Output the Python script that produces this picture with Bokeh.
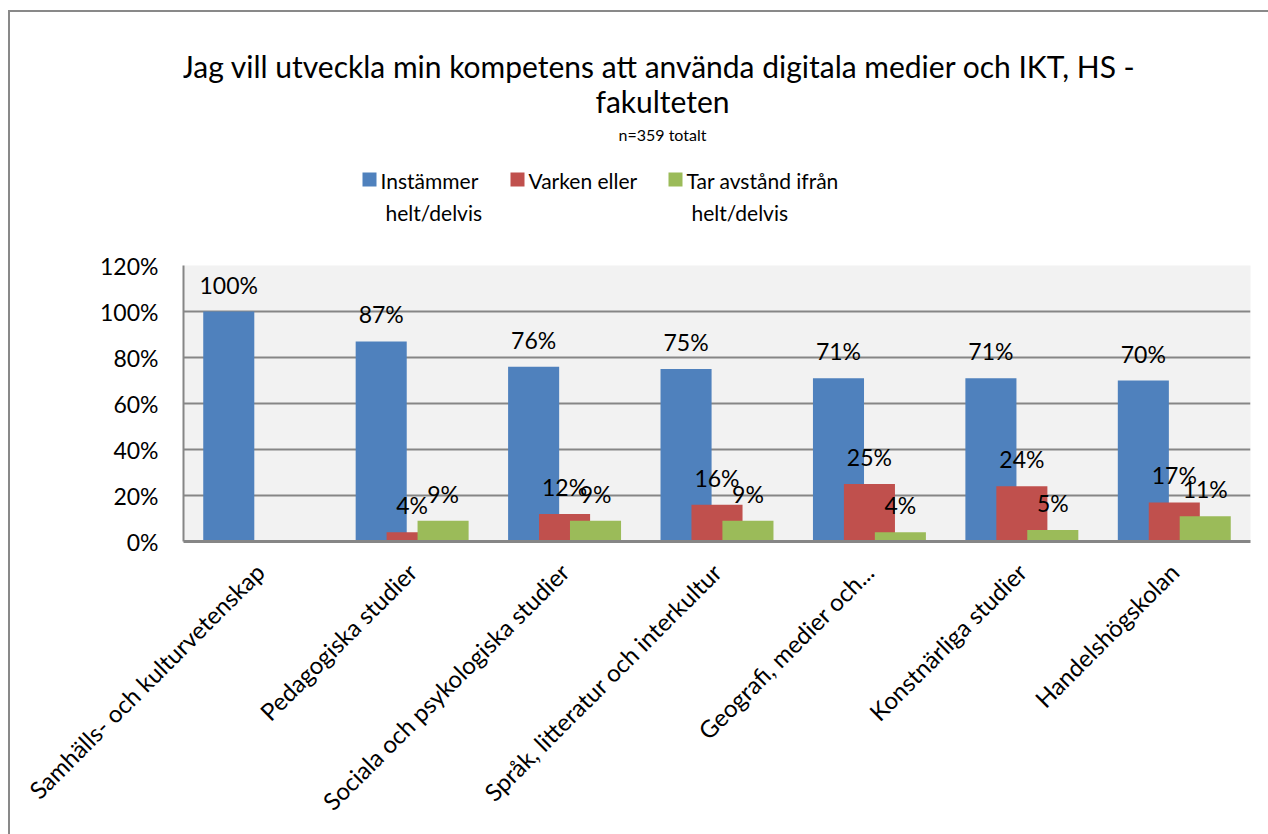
import math
from bokeh.plotting import figure
from bokeh.layouts import column
from bokeh.models import ColumnDataSource, LabelSet, FixedTicker, Range1d
from bokeh.core.properties import value
from bokeh.embed import file_html
from bokeh.resources import INLINE

# ---- data ----
categories = ["Samhälls- och kulturvetenskap", "Pedagogiska studier",
              "Sociala och psykologiska studier", "Språk, litteratur och interkultur",
              "Geografi, medier och...", "Konstnärliga studier", "Handelshögskolan"]
series_names = [["Instämmer", "helt/delvis"], ["Varken eller"], ["Tar avstånd ifrån", "helt/delvis"]]
instammer = [1.00, 0.87, 0.76, 0.75, 0.71, 0.71, 0.70]
varken = [None, 0.04, 0.12, 0.16, 0.25, 0.24, 0.17]
tar_avstand = [None, 0.09, 0.09, 0.09, 0.04, 0.05, 0.11]
y_ticks = [0.0, 0.2, 0.4, 0.6, 0.8, 1.0, 1.2]
y_tick_labels = ["0%", "20%", "40%", "60%", "80%", "100%", "120%"]
title_line1 = "Jag vill utveckla min kompetens att använda digitala medier och IKT,  HS -"
title_line2 = "fakulteten"
subtitle = "n=359 totalt"

colors = ["#4F81BD", "#C0504D", "#9BBB59"]
FONT = "Lato"
GRID = "#868686"
W = 1258
TOTAL_H = 822
HEAD_H = 231
BL, BR = 173, 18

# ---------------- header: title + legend (coords = canvas pixels) ----------------
h = figure(width=W, height=HEAD_H, output_backend="svg", toolbar_location=None,
           x_range=Range1d(BL, W - BR), y_range=Range1d(HEAD_H, 0),
           x_axis_type=None, y_axis_type=None,
           min_border_left=BL, min_border_right=BR, min_border_top=0, min_border_bottom=0)
h.outline_line_color = None
h.background_fill_color = "white"
h.border_fill_color = "white"
h.xgrid.visible = False
h.ygrid.visible = False

cx = 652
title_src = ColumnDataSource(dict(x=[cx, cx], y=[53, 88], t=[title_line1, title_line2]))
h.text(x="x", y="y", text="t", source=title_src, text_align="center",
       text_baseline="middle", text_font=value(FONT), text_font_size="30px",
       text_color="black")
h.text(x=[cx], y=[122], text=[subtitle], text_align="center", text_baseline="middle",
       text_font=value(FONT), text_font_size="16px", text_color="black")

sq_left = [352, 500, 658]
sq = 14
sq_top = 160
for left, col, lines in zip(sq_left, colors, series_names):
    h.quad(left=[left], right=[left + sq], top=[sq_top], bottom=[sq_top + sq],
           fill_color=col, line_color=None)
    xs = [left + sq + 4 + (0 if k == 0 else 5) for k in range(len(lines))]
    ys = [sq_top + 8 + 32 * k for k in range(len(lines))]
    h.text(x=xs, y=ys, text=lines, text_align="left", text_baseline="middle",
           text_font=value(FONT), text_font_size="21px", text_color="black")

# ---------------- main chart ----------------
p = figure(width=W, height=TOTAL_H - HEAD_H, output_backend="svg", toolbar_location=None,
           x_range=Range1d(0, len(categories)), y_range=Range1d(0, 1.2),
           min_border_left=BL, min_border_right=BR, min_border_top=22,
           min_border_bottom=293)
p.background_fill_color = "#F2F2F2"
p.border_fill_color = "white"
p.outline_line_color = None

offsets = [-0.203, 0.0, 0.203]
bar_w = 0.335
for vals, off, col in zip([instammer, varken, tar_avstand], offsets, colors):
    xs, tops, labels = [], [], []
    for i, v in enumerate(vals):
        if v is None:
            continue
        xs.append(i + 0.5 + off)
        tops.append(v)
        labels.append(f"{round(v * 100)}%")
    src = ColumnDataSource(dict(x=xs, top=tops, label=labels))
    p.vbar(x="x", top="top", width=bar_w, bottom=0, source=src,
           fill_color=col, line_color=None)
    p.add_layout(LabelSet(x="x", y="top", text="label", source=src,
                          text_align="center", text_baseline="alphabetic",
                          y_offset=18, text_font=value(FONT), text_font_size="23px",
                          text_color="black"))

p.xgrid.grid_line_color = None
p.ygrid.grid_line_color = GRID
p.ygrid.grid_line_width = 2
p.ygrid.ticker = FixedTicker(ticks=y_ticks)

p.yaxis.ticker = FixedTicker(ticks=y_ticks)
p.yaxis.major_label_overrides = {t: l for t, l in zip(y_ticks, y_tick_labels)}
p.yaxis.axis_line_color = GRID
p.yaxis.axis_line_width = 2
p.yaxis.major_tick_line_color = None
p.yaxis.minor_tick_line_color = None
p.yaxis.major_label_standoff = 19
p.yaxis.major_label_text_font = FONT
p.yaxis.major_label_text_font_size = "23px"
p.yaxis.major_label_text_color = "black"

xt = [i + 0.5 for i in range(len(categories))]
p.xaxis.ticker = FixedTicker(ticks=xt)
p.xaxis.major_label_overrides = {t: c for t, c in zip(xt, categories)}
p.xaxis.major_label_orientation = math.pi / 4
p.xaxis.axis_line_color = GRID
p.xaxis.axis_line_width = 3
p.xaxis.major_tick_line_color = None
p.xaxis.minor_tick_line_color = None
p.xaxis.major_label_standoff = 20
p.xaxis.major_label_text_font = FONT
p.xaxis.major_label_text_font_size = "24px"
p.xaxis.major_label_text_color = "black"

layout = column(h, p, spacing=0,
                styles={"margin-left": "8px", "margin-top": "10px",
                        "border-left": "2px solid #898989",
                        "border-top": "2px solid #898989"})

open("out.html", "w").write(file_html(layout, INLINE))
